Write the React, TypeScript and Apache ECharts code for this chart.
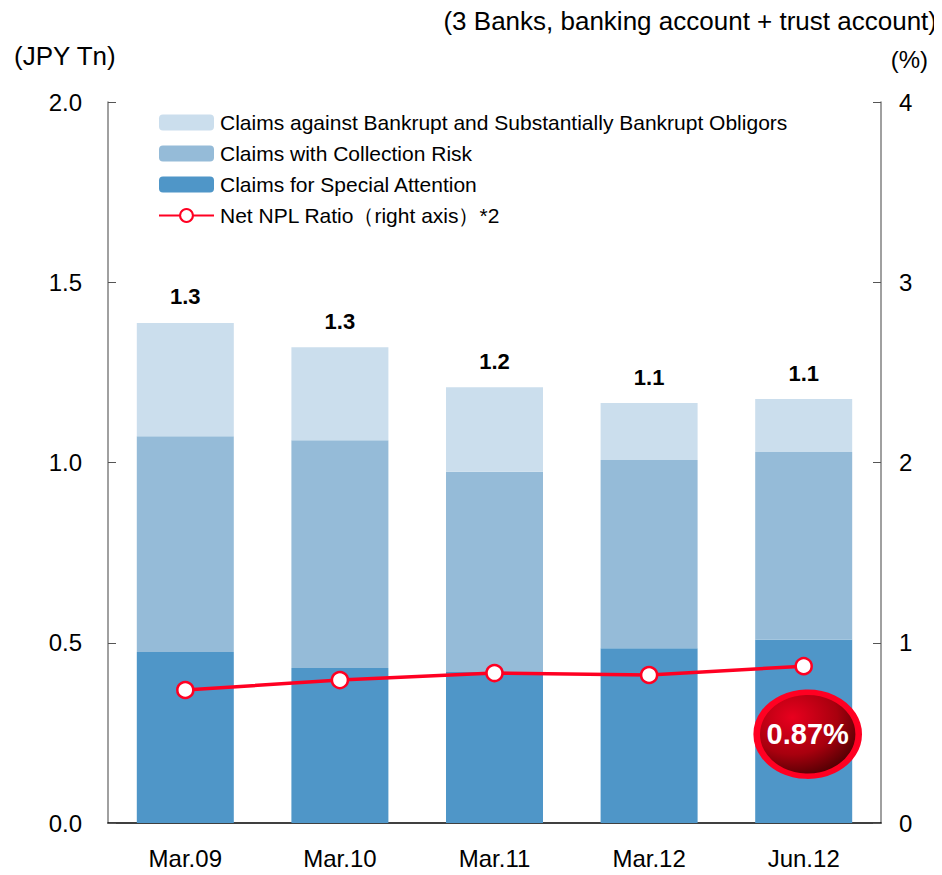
import React, { useEffect, useRef } from "react";
import * as echarts from "echarts";

const categories = ["Mar.09", "Mar.10", "Mar.11", "Mar.12", "Jun.12"];
const specialAttention = [0.474, 0.43, 0.419, 0.485, 0.508];
const collectionRisk = [0.599, 0.632, 0.555, 0.522, 0.521];
const bankrupt = [0.314, 0.258, 0.235, 0.158, 0.147];
const totalLabels = ["1.3", "1.3", "1.2", "1.1", "1.1"];
const nplRatio = [0.738, 0.793, 0.832, 0.821, 0.87];
const badgeText = "0.87%";

const FONT = "Liberation Sans, Arial, sans-serif";

export default function App() {
  const ref = useRef<HTMLDivElement>(null);
  useEffect(() => {
    if (!ref.current) return;
    const chart = echarts.init(ref.current, undefined, { renderer: "svg" });
    chart.setOption({
      animation: false,
      textStyle: { fontFamily: FONT },
      grid: { left: 108, right: 61, top: 102, bottom: 52 },
      graphic: [
        { type: "text", right: 5, top: 8, style: { text: "(3 Banks, banking account + trust account)", fontSize: 26, fontFamily: FONT, fill: "#000" } },
        { type: "text", left: 14, top: 43, style: { text: "(JPY Tn)", fontSize: 26, fontFamily: FONT, fill: "#000" } },
        { type: "text", right: 14, top: 47, style: { text: "(%)", fontSize: 24, fontFamily: FONT, fill: "#000" } },
      ],
      legend: {
        orient: "vertical",
        left: 158,
        top: 112,
        padding: 0,
        itemWidth: 55,
        itemHeight: 16,
        itemGap: 10,
        textStyle: { fontSize: 21, color: "#000", fontFamily: FONT, lineHeight: 16, padding: [0, 0, 0, 1] },
        data: [
          "Claims against Bankrupt and Substantially Bankrupt Obligors",
          "Claims with Collection Risk",
          "Claims for Special Attention",
          "Net NPL Ratio\uFF08right axis\uFF09*2",
        ],
      },
      xAxis: {
        type: "category",
        data: categories,
        axisLine: { lineStyle: { color: "#000", width: 1.5 } },
        axisTick: { inside: true, length: 8, lineStyle: { color: "#555" } },
        axisLabel: { fontSize: 24, color: "#000", margin: 23, fontFamily: FONT },
      },
      yAxis: [
        {
          type: "value",
          min: 0,
          max: 2,
          interval: 0.5,
          splitLine: { show: false },
          axisLine: { show: true, lineStyle: { color: "#808080", width: 1.5 } },
          axisTick: { show: true, inside: true, length: 8, lineStyle: { color: "#555" } },
          axisLabel: { fontSize: 24, color: "#000", margin: 26, formatter: (v: number) => v.toFixed(1), fontFamily: FONT },
        },
        {
          type: "value",
          min: 0,
          max: 4,
          interval: 1,
          splitLine: { show: false },
          axisLine: { show: true, lineStyle: { color: "#808080", width: 1.5 } },
          axisTick: { show: true, inside: true, length: 8, lineStyle: { color: "#555" } },
          axisLabel: { fontSize: 24, color: "#000", margin: 18, fontFamily: FONT },
        },
      ],
      series: [
        {
          name: "Claims for Special Attention",
          type: "bar",
          stack: "npl",
          barWidth: 97,
          data: specialAttention,
          itemStyle: { color: "#4f96c8" },
        },
        {
          name: "Claims with Collection Risk",
          type: "bar",
          stack: "npl",
          data: collectionRisk,
          itemStyle: { color: "#95bbd8" },
        },
        {
          name: "Claims against Bankrupt and Substantially Bankrupt Obligors",
          type: "bar",
          stack: "npl",
          data: bankrupt,
          itemStyle: { color: "#cbdeed" },
          label: {
            show: true,
            position: "top",
            distance: 15,
            fontSize: 22,
            fontWeight: "bold",
            color: "#000",
            fontFamily: FONT,
            formatter: (p: any) => totalLabels[p.dataIndex],
          },
        },
        {
          name: "Net NPL Ratio\uFF08right axis\uFF09*2",
          type: "line",
          yAxisIndex: 1,
          data: nplRatio,
          symbol: "circle",
          symbolSize: 16,
          lineStyle: { color: "#ff0022", width: 3.5 },
          itemStyle: { color: "#fff", borderColor: "#ff0022", borderWidth: 2.5 },
          z: 5,
          markPoint: {
            symbol: "circle",
            symbolSize: [102, 84],
            symbolOffset: [4, 68],
            data: [{ coord: [categories.length - 1, nplRatio[nplRatio.length - 1]] }],
            itemStyle: {
              color: {
                type: "radial",
                x: 0.35,
                y: 0.3,
                r: 0.8,
                colorStops: [
                  { offset: 0, color: "#e8001e" },
                  { offset: 0.55, color: "#a8000e" },
                  { offset: 1, color: "#3a0000" },
                ],
              },
              borderColor: "#ff0022",
              borderWidth: 6,
            },
            label: {
              show: true,
              formatter: badgeText,
              color: "#fff",
              fontSize: 29,
              fontWeight: "bold",
              fontFamily: FONT,
            },
          },
        },
      ],
    });
    return () => chart.dispose();
  }, []);
  return <div ref={ref} style={{ width: 942, height: 875, margin: -8 }} />;
}
